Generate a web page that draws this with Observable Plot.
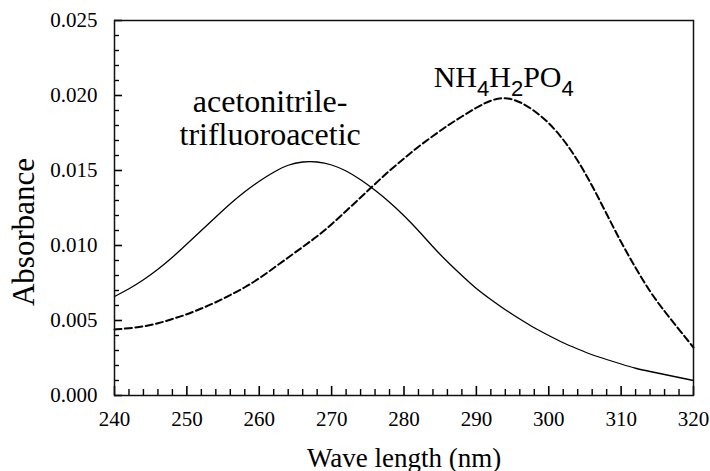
<!DOCTYPE html>
<html><head><meta charset="utf-8">
<script src="https://cdn.jsdelivr.net/npm/d3@7"></script>
<script src="https://cdn.jsdelivr.net/npm/@observablehq/plot@0.6"></script>
<style>body{margin:0;background:#fff} svg{display:block}</style>
</head><body><div id="chart"></div>
<script>
const wavelengths = [240,242,244,246,248,250,252,254,256,258,260,262,264,266,268,270,272,274,276,278,280,282,284,286,288,290,292,294,296,298,300,302,304,306,308,310,312,314,316,318,320];
const acnValues = [0.0066,0.0071,0.0077,0.0084,0.0092,0.0101,0.0110,0.0119,0.0128,0.0136,0.0143,0.0149,0.0154,0.0156,0.0156,0.0154,0.0150,0.0144,0.0137,0.0129,0.0120,0.0110,0.0099,0.0089,0.0080,0.0071,0.0064,0.0057,0.0051,0.0045,0.0040,0.0035,0.0031,0.0027,0.0024,0.0021,0.0018,0.0016,0.0014,0.0012,0.0010];
const nh4Values = [0.0044,0.00448,0.0046,0.0048,0.0051,0.0054,0.0058,0.0062,0.0067,0.0072,0.0078,0.0085,0.0092,0.0099,0.0106,0.0114,0.0123,0.0132,0.0141,0.0150,0.0158,0.0166,0.0173,0.0180,0.0186,0.0192,0.0197,0.0199,0.0196,0.0190,0.0182,0.0171,0.0157,0.0140,0.0121,0.0102,0.0085,0.0069,0.0056,0.0044,0.0032];
const xTickValues = [240,250,260,270,280,290,300,310,320];
const yTickValues = [0.000,0.005,0.010,0.015,0.020,0.025];
const annotationLabels = ["acetonitrile-\ntrifluoroacetic", "NH4H2PO4"];
const xTitle = "Wave length (nm)";
const yTitle = "Absorbance";

const xMinorTicks = d3.range(240, 321, 2).filter(v => v % 10 !== 0);
const yMinorTicks = d3.range(0, 26).filter(i => i % 5 !== 0).map(i => i / 1000);

const acnData = wavelengths.map((w, i) => ({w, a: acnValues[i]}));
const nh4Data = wavelengths.map((w, i) => ({w, a: nh4Values[i]}));

const W = 710, H = 471, ML = 114, MR = 17, MT = 20, MB = 76;
const FW = W - ML - MR, FH = H - MT - MB;
const SERIF = "Liberation Serif";

const chart = Plot.plot({
  width: W, height: H,
  marginLeft: ML, marginRight: MR, marginTop: MT, marginBottom: MB,
  style: {fontFamily: SERIF, fontSize: "21px", color: "#000", background: "#fff"},
  x: {domain: [240, 320]},
  y: {domain: [0, 0.025]},
  marks: [
    Plot.axisX(xTickValues, {tickSize: 0, tickPadding: 16, fontSize: 21, fontFamily: SERIF, label: null}),
    Plot.axisY(yTickValues, {tickSize: 0, tickPadding: 17, fontSize: 21, fontFamily: SERIF, tickFormat: d3.format(".3f"), label: null}),
    Plot.tickY(yTickValues, {y: d => d, insetRight: FW - 8, stroke: "#000", strokeWidth: 1.6}),
    Plot.tickY(yMinorTicks, {y: d => d, insetRight: FW - 5, stroke: "#000", strokeWidth: 1.4}),
    Plot.tickX(xTickValues, {x: d => d, insetTop: FH - 9, stroke: "#000", strokeWidth: 1.6}),
    Plot.tickX(xMinorTicks, {x: d => d, insetTop: FH - 6, stroke: "#000", strokeWidth: 1.4}),
    Plot.line(acnData, {x: "w", y: "a", stroke: "#000", strokeWidth: 1.3, curve: "basis"}),
    Plot.line(nh4Data, {x: "w", y: "a", stroke: "#000", strokeWidth: 2, strokeDasharray: "7,3.5", curve: "basis"}),
    Plot.frame({stroke: "#111", strokeWidth: 1.5}),
    Plot.text([annotationLabels[0]], {x: 261.5, y: 0.0167, text: d => d, textAnchor: "middle", lineAnchor: "bottom", lineHeight: 1.04, fontSize: 32, fontFamily: SERIF}),
    Plot.text([annotationLabels[1]], {x: 284.1, y: 0.0206, text: d => d, textAnchor: "start", lineAnchor: "bottom", fontSize: 30, fontFamily: SERIF}),
    Plot.text([xTitle], {frameAnchor: "bottom", dy: 71, lineAnchor: "bottom", fontSize: 27, fontFamily: SERIF}),
    Plot.text([yTitle], {frameAnchor: "left", rotate: -90, dx: -81, dy: 24, lineAnchor: "bottom", textAnchor: "middle", fontSize: 31, fontFamily: SERIF})
  ]
});

d3.select(chart).selectAll("text").filter(function () { return this.textContent === "NH4H2PO4"; }).each(function () {
  const t = d3.select(this);
  t.text("");
  const parts = [["NH", false], ["4", true], ["H", false], ["2", true], ["PO", false], ["4", true]];
  let prevSub = false;
  for (const [s, sub] of parts) {
    const ts = t.append("tspan").text(s);
    if (sub) ts.attr("dy", 9).attr("font-size", 22).attr("font-family", "Liberation Sans");
    else if (prevSub) ts.attr("dy", -9);
    prevSub = sub;
  }
});

document.getElementById("chart").appendChild(chart);
</script>
</body></html>
